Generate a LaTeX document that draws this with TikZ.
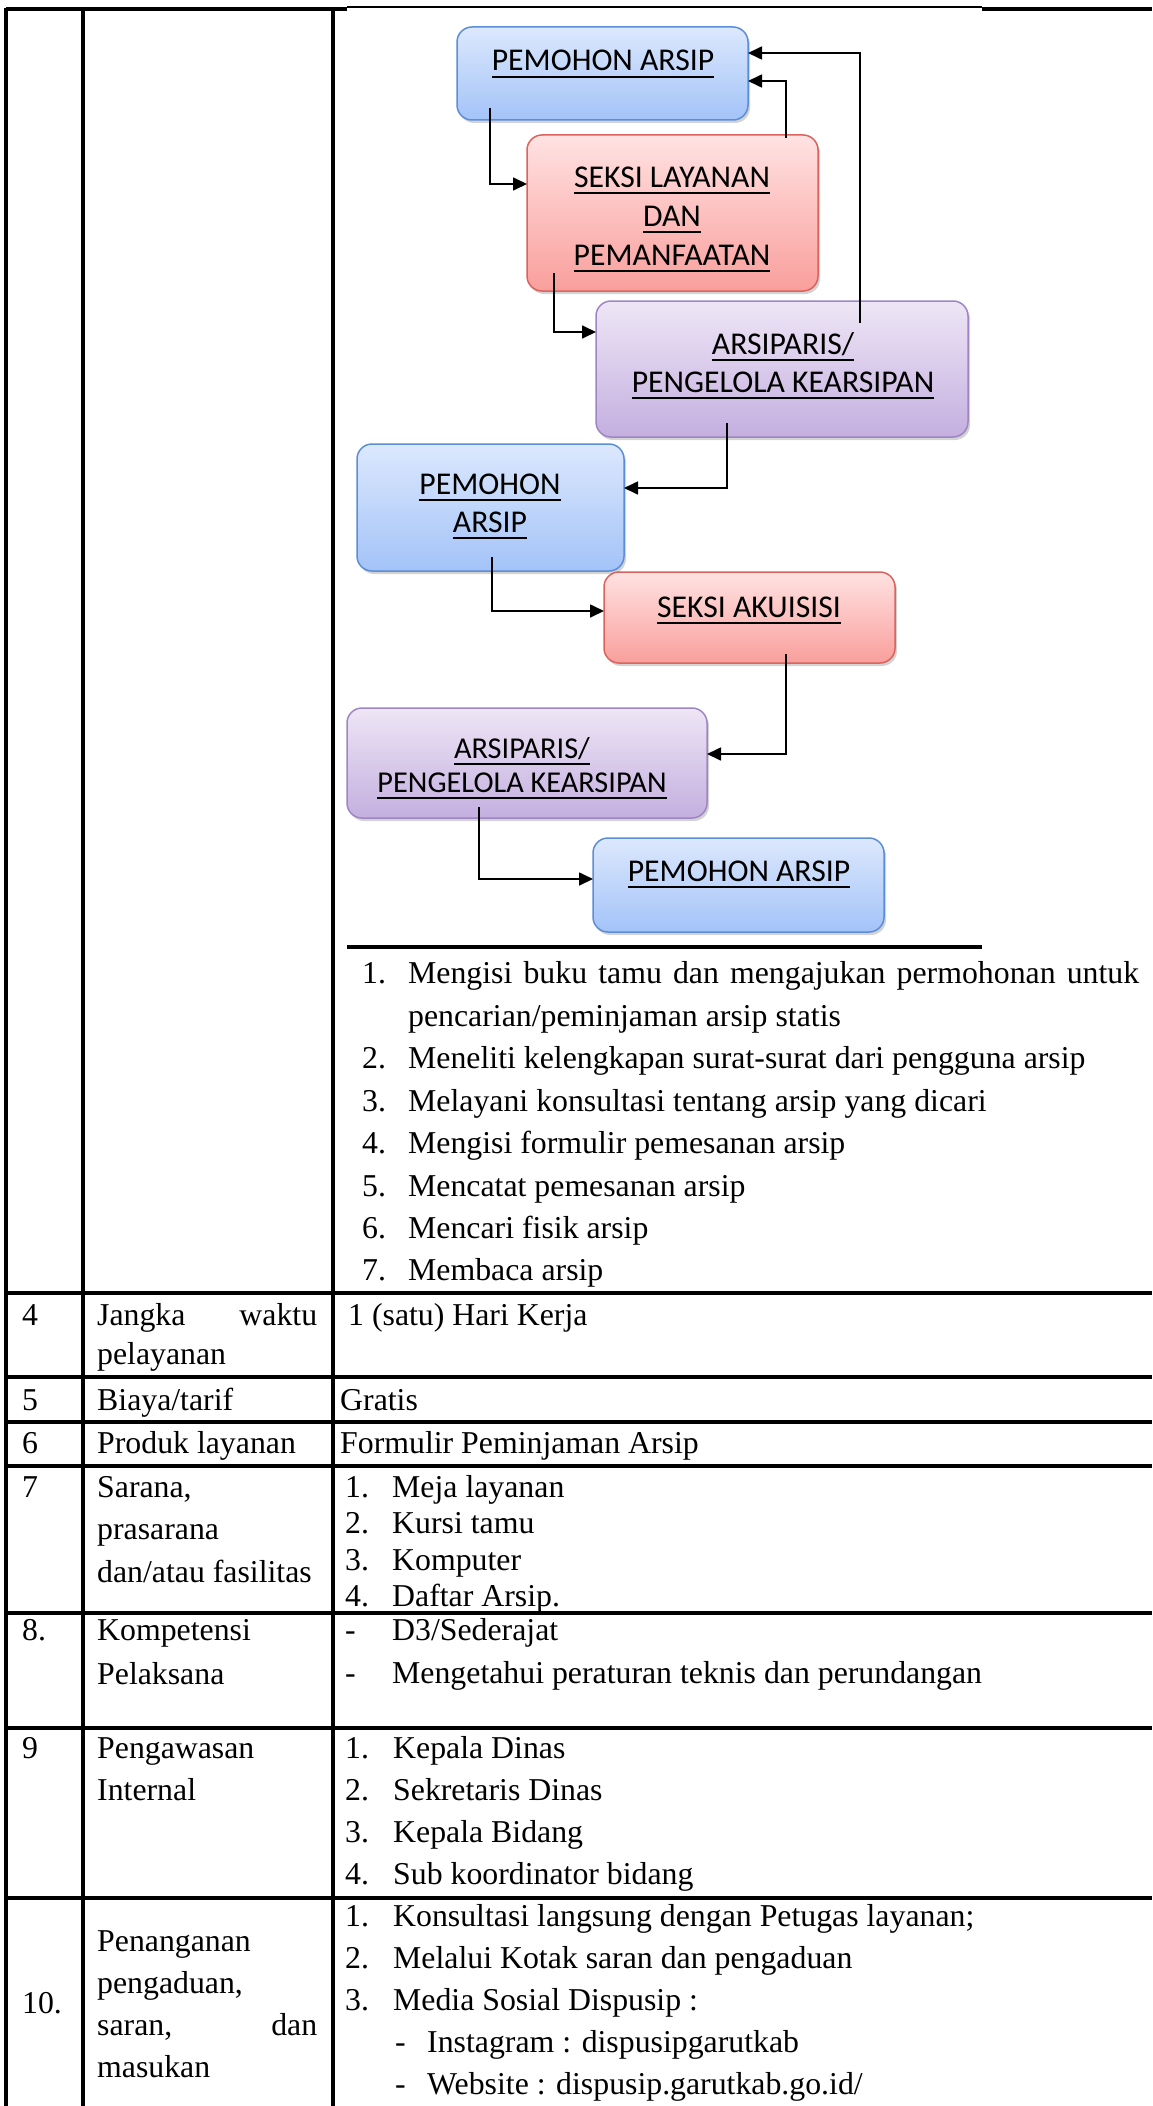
\documentclass[tikz,border=0pt]{standalone}
\usepackage{fontspec}
\setmainfont{Liberation Serif}
\newfontfamily\boxfont{Carlito}
\usetikzlibrary{arrows.meta, shadows, positioning}

\definecolor{bluetop}{HTML}{DCE8FD}
\definecolor{bluebot}{HTML}{A3C3F8}
\definecolor{blueline}{HTML}{5B8ED6}
\definecolor{redtop}{HTML}{FFE2E2}
\definecolor{redbot}{HTML}{F99F9C}
\definecolor{redline}{HTML}{DC625E}
\definecolor{purptop}{HTML}{EEE6F6}
\definecolor{purpbot}{HTML}{C4AFDF}
\definecolor{purpline}{HTML}{9D86C3}

\newcommand{\ulbox}[1]{\setbox0\hbox{#1}\rlap{\rule[-0.22em]{\wd0}{0.065em}}\box0}
\newcommand{\tabfont}{\fontsize{31.8}{42}\selectfont}

\tikzset{
  table rule/.style = {line width=3.2pt},
  stepbox/.style = {
    rounded corners=15pt, line width=1.5pt, inner sep=0pt, outer sep=0pt,
    drop shadow={shadow xshift=2pt, shadow yshift=-3pt, opacity=0.35}
  },
  bluebox/.style = {stepbox, draw=blueline, top color=bluetop, bottom color=bluebot},
  redbox/.style = {stepbox, draw=redline, top color=redtop, bottom color=redbot},
  purpbox/.style = {stepbox, draw=purpline, top color=purptop, bottom color=purpbot},
  boxtext/.style = {anchor=base, inner sep=0pt, align=center},
  flow/.style = {line width=1.7pt, -{Triangle[length=14pt, width=13pt]}},
  cell/.style = {anchor=base west, inner sep=0pt, font=\tabfont}
}

\begin{document}
\begin{tikzpicture}[x=1pt, y=-1pt]

    \useasboundingbox (0,0) rectangle (1152,2106);

    %% Alur pelayanan

    % Kotak
    \node[bluebox, minimum width=291pt, minimum height=93pt] (pa1) at (602.5,73.5) {};
    \node[redbox, minimum width=291pt, minimum height=156pt] (sl) at (672.5,213) {};
    \node[purpbox, minimum width=372pt, minimum height=136pt] (ar1) at (782,369) {};
    \node[bluebox, minimum width=267pt, minimum height=127pt] (pa2) at (490.5,507.5) {};
    \node[redbox, minimum width=291pt, minimum height=91pt] (sa) at (749.5,617.5) {};
    \node[purpbox, minimum width=360pt, minimum height=110pt] (ar2) at (527,763) {};
    \node[bluebox, minimum width=291pt, minimum height=94pt] (pa3) at (738.5,885) {};

    % Teks kotak (base = baris terakhir)
    \node[boxtext, font=\boxfont\fontsize{31.7}{39}\selectfont] (pa1t) at (603,71) {\ulbox{PEMOHON ARSIP}};
    \node[boxtext, font=\boxfont\fontsize{31.7}{39}\selectfont] (slt) at (672,265)
      {\ulbox{SEKSI LAYANAN}\\\ulbox{DAN}\\\ulbox{PEMANFAATAN}};
    \node[boxtext, font=\boxfont\fontsize{31.7}{38}\selectfont] (ar1t) at (783,392)
      {\ulbox{ARSIPARIS/}\\\ulbox{PENGELOLA KEARSIPAN}};
    \node[boxtext, font=\boxfont\fontsize{31.7}{38}\selectfont] (pa2t) at (490,532)
      {\ulbox{PEMOHON}\\\ulbox{ARSIP}};
    \node[boxtext, font=\boxfont\fontsize{31.7}{39}\selectfont] (sat) at (749,617) {\ulbox{SEKSI AKUISISI}};
    \node[boxtext, font=\boxfont\fontsize{30.3}{34}\selectfont] (ar2t) at (522,792)
      {\ulbox{ARSIPARIS/}\\\ulbox{PENGELOLA KEARSIPAN}};
    \node[boxtext, font=\boxfont\fontsize{31.7}{39}\selectfont] (pa3t) at (739,881) {\ulbox{PEMOHON ARSIP}};

    % Panah
    \draw[flow] ([xshift=33pt, yshift=12pt]pa1.south west) |- ([yshift=29pt]sl.west);
    \draw[flow] ([xshift=27pt, yshift=18pt]sl.south west) |- ([yshift=37pt]ar1.west);
    \draw[flow] ([xshift=-32pt, yshift=-3pt]sl.north east) |- ([yshift=-7.5pt]pa1.east);
    \draw[flow] ([xshift=-108pt, yshift=-22pt]ar1.north east) |- ([yshift=20.5pt]pa1.east);
    \draw[flow] ([xshift=-55pt, yshift=14pt]ar1.south) |- ([yshift=19.5pt]pa2.east);
    \draw[flow] ([xshift=1.5pt, yshift=14pt]pa2.south) |- ([yshift=6.5pt]sa.west);
    \draw[flow] ([xshift=36.5pt, yshift=9pt]sa.south) |- ([yshift=9pt]ar2.east);
    \draw[flow] ([xshift=-48pt, yshift=11pt]ar2.south) |- ([yshift=6pt]pa3.west);

    %% Tabel

    % Garis
    \draw[table rule] (6,9) -- (347,9);
    \draw[line width=1.3pt] (347,7) -- (982,7);
    \draw[table rule] (982,9) -- (1152,9);
    \draw[line width=4pt] (347,947) -- (982,947);
    \draw[table rule] (6,8) -- (6,2106);
    \draw[table rule] (83,8) -- (83,2106);
    \draw[table rule] (333,8) -- (333,2106);
    \draw[table rule] (6,1293) -- (1152,1293);
    \draw[table rule] (6,1377) -- (1152,1377);
    \draw[table rule] (6,1422) -- (1152,1422);
    \draw[table rule] (6,1466) -- (1152,1466);
    \draw[table rule] (6,1613) -- (1152,1613);
    \draw[table rule] (6,1728) -- (1152,1728);
    \draw[table rule] (6,1898) -- (1152,1898);

    % Prosedur
    \node[cell] (n1) at (362,983) {1.};
    \node[cell] (p1) at (408,983) {\makebox[731pt][s]{Mengisi buku tamu dan mengajukan permohonan untuk}};
    \node[cell] (p1b) at (408,1026) {pencarian/peminjaman arsip statis};
    \node[cell] (n2) at (362,1068) {2.};
    \node[cell] (p2) at (408,1068) {Meneliti kelengkapan surat-surat dari pengguna arsip};
    \node[cell] (n3) at (362,1111) {3.};
    \node[cell] (p3) at (408,1111) {Melayani konsultasi tentang arsip yang dicari};
    \node[cell] (n4) at (362,1153) {4.};
    \node[cell] (p4) at (408,1153) {Mengisi formulir pemesanan arsip};
    \node[cell] (n5) at (362,1196) {5.};
    \node[cell] (p5) at (408,1196) {Mencatat pemesanan arsip};
    \node[cell] (n6) at (362,1238) {6.};
    \node[cell] (p6) at (408,1238) {Mencari fisik arsip};
    \node[cell] (n7) at (362,1280) {7.};
    \node[cell] (p7) at (408,1280) {Membaca arsip};

    % Baris 4
    \node[cell] (r4) at (22,1325) {4};
    \node[cell] (r4a) at (97,1325) {\makebox[220pt][s]{Jangka waktu}};
    \node[cell] (r4b) at (97,1364) {pelayanan};
    \node[cell] (r4c) at (348,1325) {1 (satu) Hari Kerja};

    % Baris 5 dan 6
    \node[cell] (r5) at (22,1410) {5};
    \node[cell] (r5a) at (97,1410) {Biaya/tarif};
    \node[cell] (r5c) at (340,1410) {Gratis};
    \node[cell] (r6) at (22,1453) {6};
    \node[cell] (r6a) at (97,1453) {Produk layanan};
    \node[cell] (r6c) at (340,1453) {Formulir Peminjaman Arsip};

    % Baris 7
    \node[cell] (r7) at (22,1497) {7};
    \node[cell] (r7a) at (97,1497) {Sarana,};
    \node[cell] (r7b) at (97,1539) {prasarana};
    \node[cell] (r7d) at (97,1582) {dan/atau fasilitas};
    \node[cell] (s1) at (345,1497) {1.};
    \node[cell] (s1t) at (392,1497) {Meja layanan};
    \node[cell] (s2) at (345,1533) {2.};
    \node[cell] (s2t) at (392,1533) {Kursi tamu};
    \node[cell] (s3) at (345,1570) {3.};
    \node[cell] (s3t) at (392,1570) {Komputer};
    \node[cell] (s4) at (345,1606) {4.};
    \node[cell] (s4t) at (392,1606) {Daftar Arsip.};

    % Baris 8
    \node[cell] (r8) at (22,1640) {8.};
    \node[cell] (r8a) at (97,1640) {Kompetensi};
    \node[cell] (r8b) at (97,1684) {Pelaksana};
    \node[cell] (k1) at (345,1640) {-};
    \node[cell] (k1t) at (392,1640) {D3/Sederajat};
    \node[cell] (k2) at (345,1683) {-};
    \node[cell] (k2t) at (392,1683) {Mengetahui peraturan teknis dan perundangan};

    % Baris 9
    \node[cell] (r9) at (22,1758) {9};
    \node[cell] (r9a) at (97,1758) {Pengawasan};
    \node[cell] (r9b) at (97,1800) {Internal};
    \node[cell] (w1) at (345,1758) {1.};
    \node[cell] (w1t) at (393,1758) {Kepala Dinas};
    \node[cell] (w2) at (345,1800) {2.};
    \node[cell] (w2t) at (393,1800) {Sekretaris Dinas};
    \node[cell] (w3) at (345,1842) {3.};
    \node[cell] (w3t) at (393,1842) {Kepala Bidang};
    \node[cell] (w4) at (345,1884) {4.};
    \node[cell] (w4t) at (393,1884) {Sub koordinator bidang};

    % Baris 10
    \node[cell] (r10) at (22,2013) {10.};
    \node[cell] (r10a) at (97,1951) {Penanganan};
    \node[cell] (r10b) at (97,1993) {pengaduan,};
    \node[cell] (r10c) at (97,2035) {\makebox[220pt][s]{saran, dan}};
    \node[cell] (r10d) at (97,2077) {masukan};
    \node[cell] (m1) at (345,1926) {1.};
    \node[cell] (m1t) at (393,1926) {Konsultasi langsung dengan Petugas layanan;};
    \node[cell] (m2) at (345,1968) {2.};
    \node[cell] (m2t) at (393,1968) {Melalui Kotak saran dan pengaduan};
    \node[cell] (m3) at (345,2010) {3.};
    \node[cell] (m3t) at (393,2010) {Media Sosial Dispusip :};
    \node[cell] (m4) at (395,2052) {-};
    \node[cell] (m4t) at (427,2052) {Instagram : dispusipgarutkab};
    \node[cell] (m5) at (395,2094) {-};
    \node[cell] (m5t) at (427,2094) {Website : dispusip.garutkab.go.id/};

\end{tikzpicture}
\end{document}
